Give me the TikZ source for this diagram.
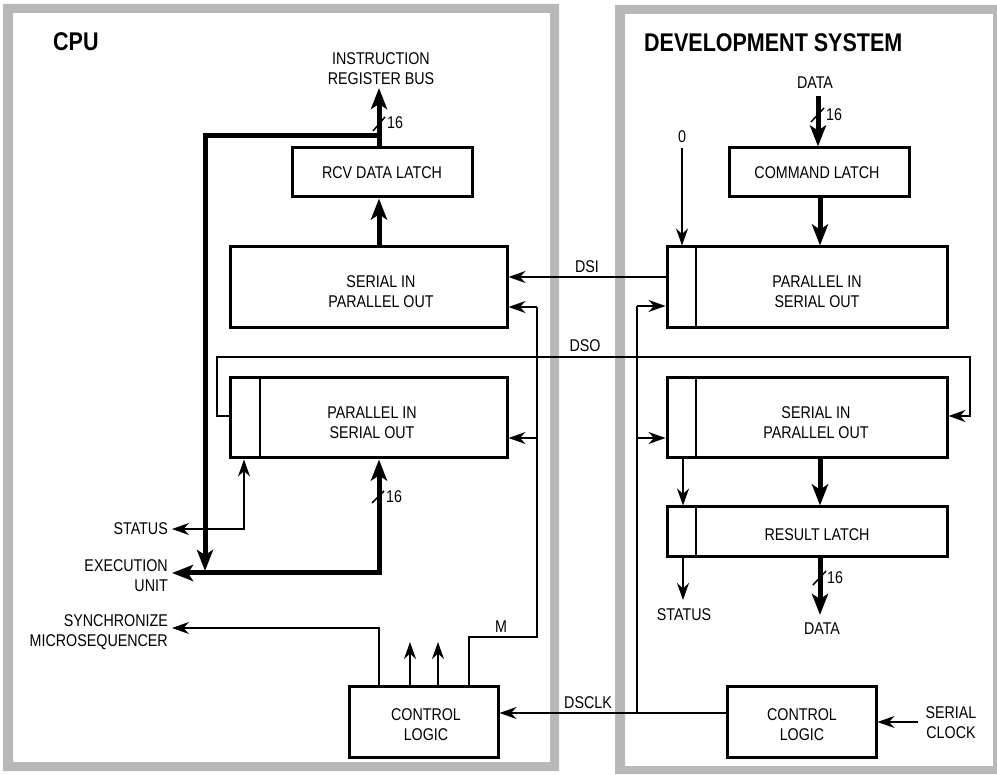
\documentclass[tikz,border=0pt]{standalone}
\usepackage{fontspec}
\setmainfont{Liberation Sans}[FakeStretch=0.84]
\usetikzlibrary{arrows.meta}
\tikzset{
  txtfont/.style={font=\fontsize{17}{20}\selectfont},
  box/.style={draw, line width=3pt, rectangle, inner sep=0pt, align=center, txtfont},
  lbl/.style={inner sep=0pt, align=center, txtfont},
  title/.style={inner sep=0pt, anchor=west, font=\fontsize{25.6}{30}\selectfont\bfseries},
  thinln/.style={line width=1.5pt},
  thintip/.tip={Stealth[length=17pt,width=12pt,inset=5.5pt]},
  bustip/.tip={Stealth[length=21pt,width=16pt,inset=5pt]},
  thinarr/.style={thinln, -thintip},
  busln/.style={line width=5pt},
  busarr/.style={busln, -bustip},
  panelframe/.style={fill=black!28, even odd rule},
  slashmark/.style={line width=1.5pt},
}
\begin{document}
\begin{tikzpicture}[x=1pt,y=-1pt]
\useasboundingbox (0,0) rectangle (997,775);
% panels
\fill[panelframe] (3,4) rectangle (559,771) (13,13) rectangle (550,762);
\fill[panelframe] (615,5) rectangle (1003,774) (625,14) rectangle (993,766);

% titles
\node[title] (cputitle) at (53,42) {CPU};
\node[title] (devtitle) at (644,43) {DEVELOPMENT SYSTEM};

% ---------- CPU side ----------
\node[box, minimum width=180pt, minimum height=49pt] (rcv) at (382,172.5) {RCV DATA LATCH};
\node[box, minimum width=277pt, minimum height=81pt] (csipo) at (368.5,287.5) {};
\node[lbl] (csipot) at (381,292) {SERIAL IN\\PARALLEL OUT};
\node[box, minimum width=277pt, minimum height=80pt] (cpiso) at (368.5,418) {};
\node[lbl] (cpisot) at (372,423) {PARALLEL IN\\SERIAL OUT};
\draw[thinln] ([xshift=31.5pt]cpiso.north west) -- ([xshift=31.5pt]cpiso.south west);
\node[box, minimum width=149pt, minimum height=71pt] (cctl) at (423.5,721.5) {};
\node[lbl] (cctlt) at (426,725) {CONTROL\\LOGIC};

\node[lbl] (irb) at (381,69) {INSTRUCTION\\REGISTER BUS};
\node[lbl, anchor=east] (cstatus) at (168,529) {STATUS};
\node[lbl, anchor=east, align=right] (exec) at (168,576) {EXECUTION\\UNIT};
\node[lbl, anchor=east, align=right] (sync) at (168,632) {SYNCHRONIZE\\MICROSEQUENCER};
\node[lbl] (mlbl) at (501,627) {M};

\coordinate (busx) at (379,0);
\coordinate (irtip) at (379,88);
\coordinate (j1) at (379,136);
\coordinate (downtip) at (205,571);
\coordinate (corner) at (379,573);
\coordinate (exectip) at (172,573);
\coordinate (synctip) at (172,628);
\coordinate (stattip) at (172,529);

% buses
\draw[busarr] (rcv.north -| busx) -- (irtip);
\draw[busarr] (j1) -| (downtip);
\draw[busarr] (csipo.north -| busx) -- (rcv.south -| busx);
\draw[busln, bustip-bustip] (cpiso.south -| busx) -- (corner) -- (exectip);
\draw[slashmark] (373,131) -- (385,117);
\node[lbl, anchor=west] (n16a) at (387,123) {16};
\draw[slashmark] (372,503) -- (384,491);
\node[lbl, anchor=west] (n16b) at (386,497) {16};

% status
\draw[thinln, thintip-thintip] (cpiso.south -| 244,0) |- (stattip);
% control logic outputs
\draw[thinarr] (cctl.north -| busx) |- (synctip);
\draw[thinarr] (cctl.north -| 410,0) -- (410,642);
\draw[thinarr] (cctl.north -| 438,0) -- (438,642);
\draw[thinln] (cctl.north -| 469,0) |- (537,637) -- (537,307);
\draw[thinarr] (537,307) -- (csipo.east |- 0,307);
\draw[thinarr] (537,438) -- (cpiso.east |- 0,438);

% ---------- Development system ----------
\node[box, minimum width=180pt, minimum height=49pt] (cmd) at (819,172.5) {};
\node[lbl] (cmdt) at (817,173) {COMMAND LATCH};
\node[box, minimum width=280pt, minimum height=81pt] (dpiso) at (807,287.5) {};
\node[lbl] (dpisot) at (817,292) {PARALLEL IN\\SERIAL OUT};
\draw[thinln] ([xshift=30.5pt]dpiso.north west) -- ([xshift=30.5pt]dpiso.south west);
\node[box, minimum width=280pt, minimum height=80pt] (dsipo) at (807,418) {};
\node[lbl] (dsipot) at (816,423) {SERIAL IN\\PARALLEL OUT};
\draw[thinln] ([xshift=30.5pt]dsipo.north west) -- ([xshift=30.5pt]dsipo.south west);
\node[box, minimum width=280pt, minimum height=50pt] (res) at (807,532) {};
\node[lbl] (rest) at (817,535) {RESULT LATCH};
\draw[thinln] ([xshift=30.5pt]res.north west) -- ([xshift=30.5pt]res.south west);
\node[box, minimum width=149pt, minimum height=71pt] (dctl) at (801.5,721.5) {};
\node[lbl] (dctlt) at (802,725) {CONTROL\\LOGIC};

\node[lbl] (din) at (815,83) {DATA};
\node[lbl] (zero) at (682,137) {0};
\node[lbl] (dstatus) at (684,615) {STATUS};
\node[lbl] (dout) at (822,629) {DATA};
\node[lbl] (sclk) at (951,723) {SERIAL\\CLOCK};

\draw[busarr] (818,96) -- (cmd.north -| 818,0);
\draw[slashmark] (811,122) -- (824,108);
\node[lbl, anchor=west] (n16c) at (826,115) {16};
\draw[busarr] (cmd.south -| 820,0) -- (dpiso.north -| 820,0);
\draw[busarr] (dsipo.south -| 820,0) -- (res.north -| 820,0);
\draw[busarr] (res.south -| 820,0) -- (820,615);
\draw[slashmark] (813,585) -- (826,571);
\node[lbl, anchor=west] (n16d) at (827,578) {16};

\draw[thinarr] (682,148) -- (dpiso.north -| 682,0);
\draw[thinarr] (dsipo.south -| 683,0) -- (res.north -| 683,0);
\draw[thinarr] (res.south -| 683,0) -- (683,600);
\draw[thinarr] (918,722) -- (dctl.east |- 0,722);

% ---------- interconnect ----------
\draw[thinarr] (dpiso.west |- 0,277) -- (csipo.east |- 0,277);
\node[lbl] (dsil) at (587,267) {DSI};
\draw[thinarr] (cpiso.west |- 0,416) -| (217,357) -| (970,416) -- (dsipo.east |- 0,416);
\node[lbl] (dsol) at (585,346) {DSO};
\draw[thinarr] (dctl.west |- 0,713) -- (cctl.east |- 0,713);
\node[lbl] (dsclkl) at (588,703) {DSCLK};
\draw[thinln] (637,713) -- (637,306);
\draw[thinarr] (637,306) -- (dpiso.west |- 0,306);
\draw[thinarr] (637,438) -- (dsipo.west |- 0,438);
\end{tikzpicture}
\end{document}
